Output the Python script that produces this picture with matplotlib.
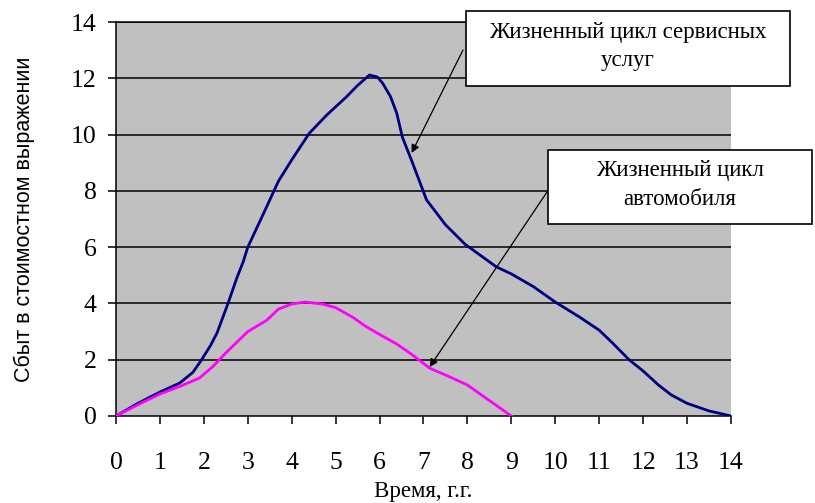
import matplotlib
matplotlib.use("Agg")
import matplotlib.pyplot as plt
from matplotlib.patches import Rectangle

# Жизненный цикл сервисных услуг (синяя кривая)
service_x = [0, 0.5, 1, 1.45, 1.75, 1.95, 2.15, 2.3, 2.55, 2.75, 2.9, 3.0, 3.3,
             3.7, 4.0, 4.4, 4.8, 5.25, 5.5, 5.77, 5.95, 6.07, 6.25, 6.39, 6.52,
             6.75, 7.07, 7.5, 7.95, 8.66, 9.0, 9.5, 10.0, 10.55, 11.0, 11.3,
             11.68, 12.0, 12.35, 12.64, 13.0, 13.5, 14.0]
service_y = [0, 0.45, 0.85, 1.17, 1.55, 2.0, 2.5, 2.95, 4.0, 4.9, 5.5, 6.0, 7.0,
             8.35, 9.1, 10.05, 10.7, 11.35, 11.75, 12.12, 12.05, 11.83, 11.35,
             10.77, 9.91, 9.0, 7.68, 6.8, 6.1, 5.3, 5.05, 4.6, 4.05, 3.52, 3.05,
             2.6, 2.0, 1.6, 1.1, 0.75, 0.45, 0.18, 0]

# Жизненный цикл автомобиля (розовая кривая)
car_x = [0, 0.5, 1, 1.5, 1.9, 2.2, 2.5, 3.0, 3.43, 3.7, 4.0, 4.3, 4.7, 5.0,
         5.4, 5.7, 6.0, 6.4, 6.75, 7.14, 7.6, 8.0, 8.5, 9.0]
car_y = [0, 0.4, 0.78, 1.08, 1.35, 1.75, 2.24, 3.0, 3.4, 3.8, 3.98, 4.05,
         3.98, 3.85, 3.5, 3.17, 2.9, 2.55, 2.17, 1.7, 1.39, 1.1, 0.55, 0]

x_ticks = list(range(0, 15))
y_ticks = list(range(0, 15, 2))

serif = ['Liberation Serif', 'DejaVu Serif']
sans = ['Liberation Sans', 'DejaVu Sans']
plt.rcParams['font.family'] = serif

fig = plt.figure(figsize=(8.15, 5.03), dpi=100)
ax = fig.add_axes([0.1423, 0.173, 0.7546, 0.783])
ax.set_facecolor('#c0c0c0')

for yv in y_ticks[1:]:
    ax.axhline(yv, color='black', linewidth=1.1, zorder=1)

ax.plot(service_x, service_y, color='#000080', linewidth=2.0, zorder=3)
ax.plot(car_x, car_y, color='#ff00ff', linewidth=2.0, zorder=3)

ax.set_xlim(0, 14)
ax.set_ylim(0, 14)
ax.set_xticks(x_ticks)
ax.set_yticks(y_ticks)
ax.tick_params(axis='both', direction='out', length=6, width=1.1,
               labelsize=18.5, color='black')
ax.tick_params(axis='x', pad=20)
ax.tick_params(axis='y', pad=8)

ax.spines['right'].set_visible(False)
for side in ['left', 'bottom', 'top']:
    ax.spines[side].set_linewidth(1.1)
    ax.spines[side].set_color('black')

ax.set_xlabel('Время, г.г.', fontsize=16.5, labelpad=5, family=serif)
ax.set_ylabel('Сбыт в стоимостном выражении', fontsize=15.5,
              family=sans, labelpad=26)

# подписи со стрелками
def px(x, y):
    return (x / 815.0, 1 - y / 503.0)

boxes = [
    (466, 11, 790, 86, 'Жизненный цикл сервисных\nуслуг', (463, 50), (6.73, 9.35)),
    (548, 150, 812, 224, 'Жизненный цикл\nавтомобиля', (547, 192), (7.14, 1.74)),
]
for x0, y0, x1, y1, label, start, tip in boxes:
    fx0, fy1 = px(x0, y0)
    fx1, fy0 = px(x1, y1)
    rect = Rectangle((fx0, fy0), fx1 - fx0, fy1 - fy0, transform=fig.transFigure,
                     facecolor='white', edgecolor='black', linewidth=1.2,
                     zorder=5)
    fig.patches.append(rect)
    fig.text((fx0 + fx1) / 2, (fy0 + fy1) / 2 + 0.004, label, ha='center',
             va='center', fontsize=16.5, linespacing=1.45, family=serif,
             zorder=6)
    ax.annotate('', xy=tip, xycoords='data', xytext=px(*start),
                textcoords='figure fraction',
                arrowprops=dict(arrowstyle='-|>', color='black', lw=0.9,
                                mutation_scale=12, shrinkA=0, shrinkB=0),
                zorder=4, annotation_clip=False)

fig.savefig('out.png', dpi=100)
